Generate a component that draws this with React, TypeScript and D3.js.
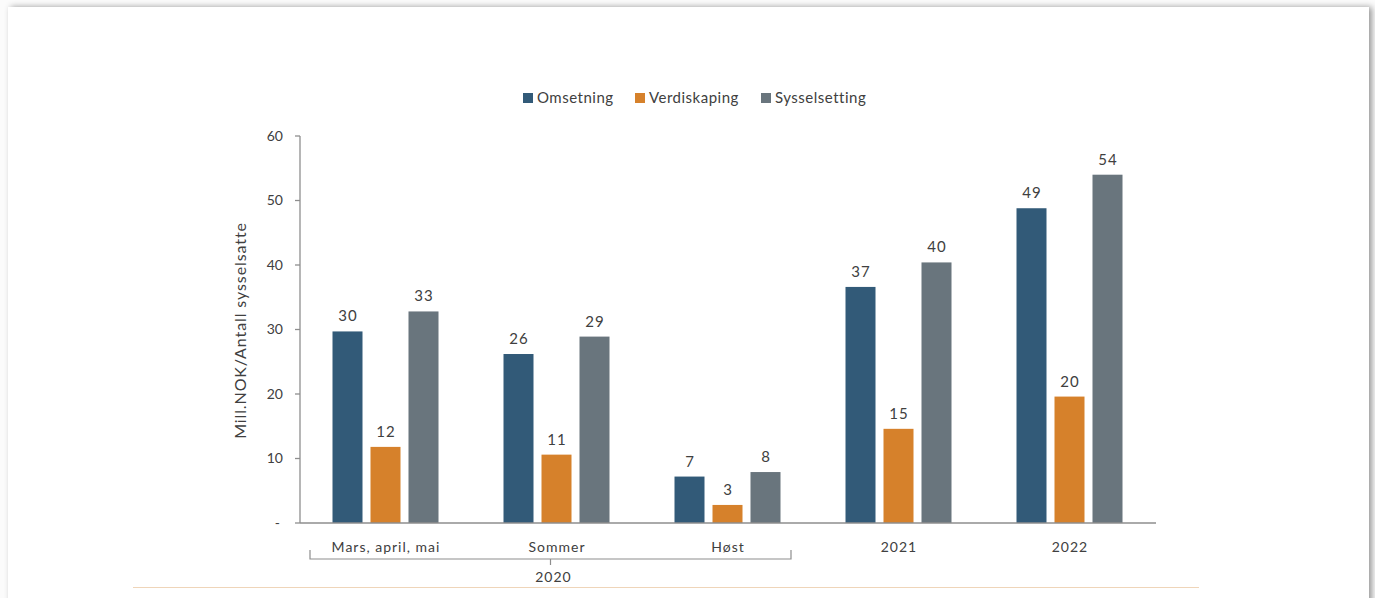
import React from "react";
import * as d3 from "d3";

const categories = ["Mars, april, mai", "Sommer", "Høst", "2021", "2022"];
const seriesNames = ["Omsetning", "Verdiskaping", "Sysselsetting"];
const omsetning = [29.7, 26.2, 7.2, 36.6, 48.8];
const verdiskaping = [11.8, 10.6, 2.8, 14.6, 19.6];
const sysselsetting = [32.8, 28.9, 7.9, 40.4, 54.0];
const yTicks = [0, 10, 20, 30, 40, 50, 60];
const colors = ["#325a78", "#d6812b", "#69757d"];
const groupLabel = "2020";
const yTitle = "Mill.NOK/Antall sysselsatte";

const W = 1375;
const H = 598;
const FONT = "Lato, 'Open Sans', sans-serif";

export default function App() {
  const series = [omsetning, verdiskaping, sysselsetting];
  const x0 = d3.scaleBand<string>().domain(categories).range([300, 1155]).paddingInner(0).paddingOuter(0);
  const y = d3.scaleLinear().domain([0, 60]).range([523, 136]);
  const barW = 30;
  const gap = 8;
  const x1 = d3
    .scaleBand<string>()
    .domain(seriesNames)
    .range([-(barW * 1.5 + gap), barW * 1.5 + gap])
    .paddingInner(gap / (barW + gap))
    .paddingOuter(0);
  const fmt = d3.format(".0f");
  const axisColor = "#8e8e8e";
  const textColor = "#404040";

  const legendItems = [
    { x: 523 },
    { x: 635 },
    { x: 761 },
  ];

  const bx0 = (x0(categories[0]) ?? 0) + 10;
  const bx1 = (x0(categories[2]) ?? 0) + x0.bandwidth() - 22;
  const bmid = (bx0 + bx1) / 2;

  return (
    <svg
      width={W}
      height={H}
      style={{ position: "absolute", left: 0, top: 0, background: "#fbfbfb" }}
      fontFamily={FONT}
    >
      <defs>
        <filter id="sh" x="-5%" y="-5%" width="110%" height="110%">
          <feDropShadow dx="3" dy="0" stdDeviation="3" floodColor="#000" floodOpacity="0.4" />
        </filter>
      </defs>
      <rect x={8} y={7} width={1361} height={H} fill="#ffffff" filter="url(#sh)" />

      {/* legend */}
      {seriesNames.map((s, i) => (
        <g key={s}>
          <rect x={legendItems[i].x} y={93} width={10} height={10} fill={colors[i]} />
          <text
            x={legendItems[i].x + 14}
            y={103}
            fontSize={15}
            letterSpacing={0.5}
            fill={textColor}
          >
            {s}
          </text>
        </g>
      ))}

      {/* y axis */}
      <line x1={300} x2={300} y1={y(60)} y2={y(0)} stroke={axisColor} strokeWidth={1.3} />
      {yTicks.map((t) => (
        <g key={t}>
          <line x1={295} x2={300} y1={y(t)} y2={y(t)} stroke={axisColor} strokeWidth={1.3} />
          <text
            x={t === 0 ? 280 : 283}
            y={y(t)}
            dy="0.35em"
            textAnchor="end"
            fontSize={14}
            fill={textColor}
          >
            {t === 0 ? "-" : t}
          </text>
        </g>
      ))}
      <text
        transform={`translate(246,${(y(0) + y(60)) / 2 + 1}) rotate(-90)`}
        textAnchor="middle"
        fontSize={16}
        letterSpacing={0.9}
        fill={textColor}
      >
        {yTitle}
      </text>

      {/* bars */}
      {categories.map((c, ci) => {
        const cx = (x0(c) ?? 0) + x0.bandwidth() / 2;
        return (
          <g key={c}>
            {series.map((vals, si) => {
              const bx = cx + (x1(seriesNames[si]) ?? 0);
              const v = vals[ci];
              return (
                <g key={si}>
                  <rect x={bx} y={y(v)} width={x1.bandwidth()} height={y(0) - y(v)} fill={colors[si]} />
                  <text
                    x={bx + x1.bandwidth() / 2 + 0.5}
                    y={y(v) - 10}
                    textAnchor="middle"
                    fontSize={15}
                    letterSpacing={1}
                    fill={textColor}
                  >
                    {fmt(v)}
                  </text>
                </g>
              );
            })}
            <text
              x={cx + 0.5}
              y={552}
              textAnchor="middle"
              fontSize={14}
              letterSpacing={1}
              fill={textColor}
            >
              {c}
            </text>
          </g>
        );
      })}

      {/* x axis */}
      <line x1={300} x2={1156} y1={y(0)} y2={y(0)} stroke={axisColor} strokeWidth={1.5} />

      {/* bracket */}
      <path
        d={`M${bx0},550 L${bx0},559 L${bx1},559 L${bx1},550 M${bmid},559 L${bmid},565`}
        fill="none"
        stroke={axisColor}
        strokeWidth={1.2}
      />
      <text x={bmid + 3} y={582} textAnchor="middle" fontSize={14} letterSpacing={1} fill={textColor}>
        {groupLabel}
      </text>

      {/* bottom rule */}
      <line x1={133} x2={1199} y1={587.5} y2={587.5} stroke="#efd5b9" strokeWidth={1} />
    </svg>
  );
}
